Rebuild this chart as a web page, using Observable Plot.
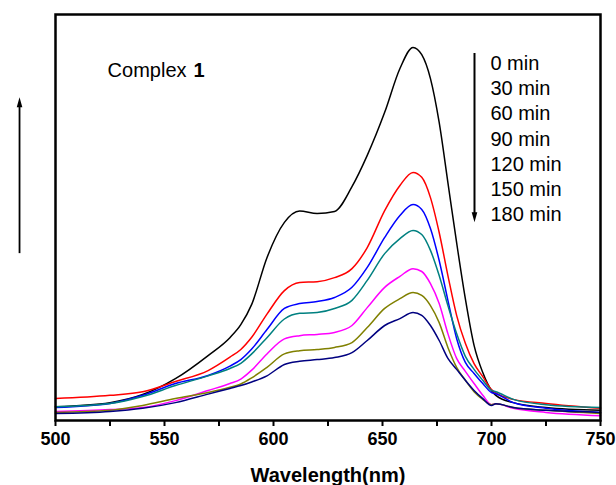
<!DOCTYPE html>
<html>
<head>
<meta charset="utf-8">
<script src="https://cdn.jsdelivr.net/npm/d3@7"></script>
<script src="https://cdn.jsdelivr.net/npm/@observablehq/plot@0.6"></script>
<style>
  html, body { margin: 0; padding: 0; background: #fff; }
  #chart { width: 616px; height: 485px; }
</style>
</head>
<body>
<div id="chart"></div>
<script>
// Wavelength grid (nm)
const wavelengths = [500, 525, 540, 555, 570, 580, 585, 590, 597, 605, 612, 620, 628, 636, 643, 651, 658, 664, 668, 672, 676, 680, 684, 688, 692, 696, 700, 702, 710, 725, 750];

// Absorbance (a.u.) per irradiation time
const min0   = [3.4, 4.4, 6.4, 10.3, 16.0, 20.4, 23.6, 28.6, 40.1, 48.8, 51.6, 51.0, 51.5, 57.6, 65.3, 75.9, 86.7, 91.9, 90.1, 84.2, 73.4, 58.6, 43.8, 30.0, 18.5, 11.8, 7.4, 6.2, 4.4, 3.2, 2.5];
const min30  = [5.4, 6.2, 7.1, 9.6, 12.3, 15.6, 17.5, 20.5, 26.2, 32.0, 34.0, 34.2, 35.2, 37.4, 42.6, 51.7, 57.9, 61.1, 59.9, 54.9, 46.3, 35.7, 25.9, 19.0, 14.0, 10.8, 7.6, 6.8, 5.2, 4.2, 3.0];
const min60  = [3.2, 4.2, 6.2, 9.1, 11.1, 13.4, 15.0, 17.6, 22.4, 27.6, 28.8, 29.3, 30.3, 32.8, 37.7, 45.1, 50.5, 53.2, 52.0, 47.3, 39.4, 29.6, 20.2, 14.3, 11.6, 9.1, 6.9, 6.6, 4.4, 3.0, 2.0];
const min90  = [3.4, 4.2, 5.9, 8.6, 11.0, 12.8, 14.1, 16.4, 20.4, 25.0, 26.4, 26.6, 27.6, 29.6, 34.5, 41.1, 44.8, 46.8, 45.8, 41.9, 35.7, 28.3, 21.4, 15.8, 12.6, 9.9, 7.4, 7.1, 5.2, 3.9, 3.2];
const min120 = [2.2, 2.7, 3.2, 4.9, 7.4, 9.1, 10.2, 12.4, 16.4, 20.1, 20.9, 21.2, 21.7, 23.4, 27.8, 32.8, 35.5, 37.4, 36.7, 33.7, 28.8, 21.4, 15.3, 12.1, 9.1, 6.2, 3.9, 4.1, 3.0, 2.0, 1.2];
const min150 = [2.0, 2.5, 3.7, 5.4, 6.9, 8.2, 9.0, 10.5, 13.1, 16.4, 17.2, 17.5, 18.0, 19.2, 22.9, 27.6, 30.0, 31.5, 30.8, 28.3, 24.1, 18.0, 13.1, 9.9, 7.1, 5.2, 3.9, 4.1, 3.2, 2.5, 1.7];
const min180 = [1.7, 2.2, 3.0, 4.4, 6.5, 7.9, 8.6, 9.5, 11.0, 13.8, 14.6, 15.0, 15.5, 16.7, 19.7, 23.4, 25.1, 26.6, 25.9, 23.4, 19.7, 15.3, 12.6, 9.9, 7.4, 5.4, 3.7, 4.1, 3.2, 2.5, 2.0];

const times = ["0 min", "30 min", "60 min", "90 min", "120 min", "150 min", "180 min"];
const seriesValues = [min0, min30, min60, min90, min120, min150, min180];
const colors = ["#000000", "#ff0000", "#0000ff", "#008080", "#ff00ff", "#808000", "#000080"];

const xTicks = [500, 550, 600, 650, 700, 750];
const xMinorTicks = [525, 575, 625, 675, 725];

// annotation anchors (data coordinates)
const legendX = 699.5, legendTopY = 87.9, legendStep = 6.2;
const downArrow = {x: 692.2, y1: 90.4, y2: 48.8};
const upArrow = {x: 483.5, y1: 41.1, y2: 79.6};
const titlePos = {x: 523.9, y: 86.2};

const rows = times.flatMap((t, i) => wavelengths.map((w, j) => ({wl: w, a: seriesValues[i][j], t})));

// narrow filled arrowhead symbol, tip at origin pointing up
const headSymbol = {
  draw(ctx, size) {
    const r = Math.sqrt(size / Math.PI);
    const h = 2.5 * r, w = 0.7 * r;
    ctx.moveTo(0, 0);
    ctx.lineTo(-w, h);
    ctx.lineTo(w, h);
    ctx.closePath();
  }
};

const font = "'Liberation Sans', Arial, Helvetica, sans-serif";

const chart = Plot.plot({
  width: 616,
  height: 485,
  marginLeft: 55,
  marginRight: 16,
  marginTop: 14,
  marginBottom: 65,
  style: {fontFamily: font, background: "#fff", color: "#000"},
  x: {domain: [500, 750]},
  y: {domain: [0, 100], axis: null},
  color: {domain: times, range: colors},
  marks: [
    Plot.line(rows, {x: "wl", y: "a", z: "t", stroke: "t", strokeWidth: 1.5, curve: "monotone-x"}),
    Plot.frame({stroke: "#000", strokeWidth: 2.5}),
    Plot.axisX(xTicks, {tickSize: 6, tickPadding: 6, fontSize: 18, fontWeight: "bold", strokeWidth: 2, label: null}),
    Plot.axisX(xMinorTicks, {tickSize: 6, strokeWidth: 2, tickFormat: () => "", label: null}),
    Plot.text(["Wavelength(nm)"], {frameAnchor: "bottom", dy: 55, lineAnchor: "middle", fontSize: 20, fontWeight: "bold", text: d => d}),
    // title
    Plot.text([titlePos], {x: "x", y: "y", text: () => "Complex ", textAnchor: "start", lineAnchor: "middle", fontSize: 20}),
    Plot.text([titlePos], {x: "x", y: "y", text: () => "1", textAnchor: "start", lineAnchor: "middle", fontSize: 20, fontWeight: "bold", dx: 86}),
    // legend labels
    Plot.text(times, {x: () => legendX, y: (d, i) => legendTopY - i * legendStep, text: d => d, textAnchor: "start", lineAnchor: "middle", fontSize: 20}),
    // down arrow
    Plot.ruleX([downArrow], {x: "x", y1: "y1", y2: d => d.y2 + 2, strokeWidth: 2}),
    Plot.dot([downArrow], {x: "x", y: "y2", symbol: headSymbol, r: 4, fill: "#000", stroke: null, rotate: 180}),
    // up arrow
    Plot.ruleX([upArrow], {x: "x", y1: "y1", y2: d => d.y2 - 2, strokeWidth: 1.8}),
    Plot.dot([upArrow], {x: "x", y: "y2", symbol: headSymbol, r: 4, fill: "#000", stroke: null})
  ]
});

document.getElementById("chart").appendChild(chart);
</script>
</body>
</html>
